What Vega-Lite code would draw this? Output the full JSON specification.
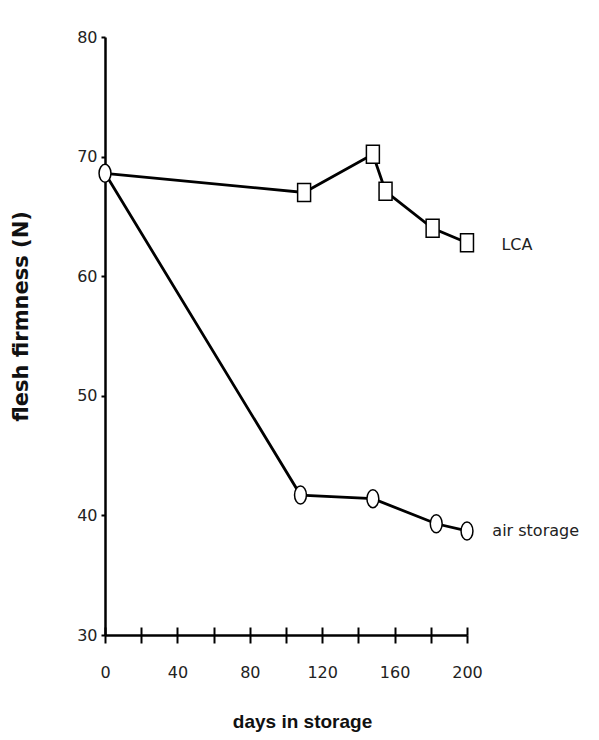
{
  "$schema": "https://vega.github.io/schema/vega-lite/v6.json",
  "width": 362,
  "height": 598,
  "autosize": {"type": "none"},
  "padding": {"left": 105, "top": 37, "right": 132, "bottom": 105},
  "background": "white",
  "config": {
    "view": {"stroke": null},
    "axis": {
      "grid": false,
      "domainColor": "black",
      "domainWidth": 2.5,
      "tickColor": "black",
      "tickWidth": 2,
      "labelFont": "DejaVu Sans",
      "labelFontSize": 16,
      "labelColor": "#222",
      "labelFlush": false,
      "titleFont": "Liberation Sans",
      "titleFontSize": 19,
      "titleFontWeight": "bold",
      "titleColor": "#111"
    }
  },
  "resolve": {"axis": {"x": "independent"}},
  "data": {
    "values": [
      {"series": "air storage", "day": 0, "value": 68.6},
      {"series": "air storage", "day": 108, "value": 41.7},
      {"series": "air storage", "day": 148, "value": 41.4},
      {"series": "air storage", "day": 183, "value": 39.3},
      {"series": "air storage", "day": 200, "value": 38.7},
      {"series": "LCA", "day": 0, "value": 68.6},
      {"series": "LCA", "day": 110, "value": 67.0},
      {"series": "LCA", "day": 148, "value": 70.2},
      {"series": "LCA", "day": 155, "value": 67.1},
      {"series": "LCA", "day": 181, "value": 64.0},
      {"series": "LCA", "day": 200, "value": 62.8}
    ]
  },
  "layer": [
    {
      "mark": {"type": "line", "color": "black", "strokeWidth": 2.8},
      "encoding": {
        "x": {
          "field": "day", "type": "quantitative",
          "scale": {"domain": [0, 200], "nice": false},
          "axis": {
            "values": [0, 20, 40, 60, 80, 100, 120, 140, 160, 180, 200],
            "labelExpr": "datum.value % 40 == 0 ? datum.label : ''",
            "tickSize": 8,
            "labelPadding": 21,
            "title": "days in storage",
            "titlePadding": 32,
            "titleX": 197
          }
        },
        "y": {
          "field": "value", "type": "quantitative",
          "scale": {"domain": [30, 80], "nice": false, "zero": false},
          "axis": {
            "values": [30, 40, 50, 60, 70, 80],
            "tickSize": 4,
            "labelPadding": 4,
            "title": "flesh firmness (N)",
            "titleFont": "DejaVu Sans",
            "titleFontSize": 21,
            "titleX": -74,
            "titleY": 279
          }
        },
        "detail": {"field": "series"}
      }
    },
    {
      "transform": [{"filter": "datum.day > 0 || datum.series == 'air storage'"}],
      "mark": {"type": "point", "filled": true, "fill": "white", "stroke": "black", "strokeWidth": 1.5, "opacity": 1},
      "encoding": {
        "x": {"field": "day", "type": "quantitative", "axis": null},
        "y": {"field": "value", "type": "quantitative"},
        "shape": {
          "field": "series",
          "scale": {
            "domain": ["LCA", "air storage"],
            "range": ["M-0.72,-1L0.72,-1L0.72,1L-0.72,1Z", "M0,-1A0.66,1 0 1,1 0,1A0.66,1 0 1,1 0,-1Z"]
          },
          "legend": null
        },
        "size": {"value": 324}
      }
    },
    {
      "data": {
        "values": [
          {"label": "LCA", "day": 219, "value": 62.6},
          {"label": "air storage", "day": 214, "value": 38.7}
        ]
      },
      "mark": {"type": "text", "align": "left", "baseline": "middle", "font": "DejaVu Sans", "fontSize": 16, "color": "#222"},
      "encoding": {
        "x": {
          "field": "day", "type": "quantitative",
          "axis": {
            "orient": "bottom",
            "values": [0, 20, 40, 60, 80, 100, 120, 140, 160, 180, 200],
            "tickSize": -8,
            "labels": false,
            "domain": false,
            "title": null
          }
        },
        "y": {"field": "value", "type": "quantitative"},
        "text": {"field": "label"}
      }
    }
  ]
}
